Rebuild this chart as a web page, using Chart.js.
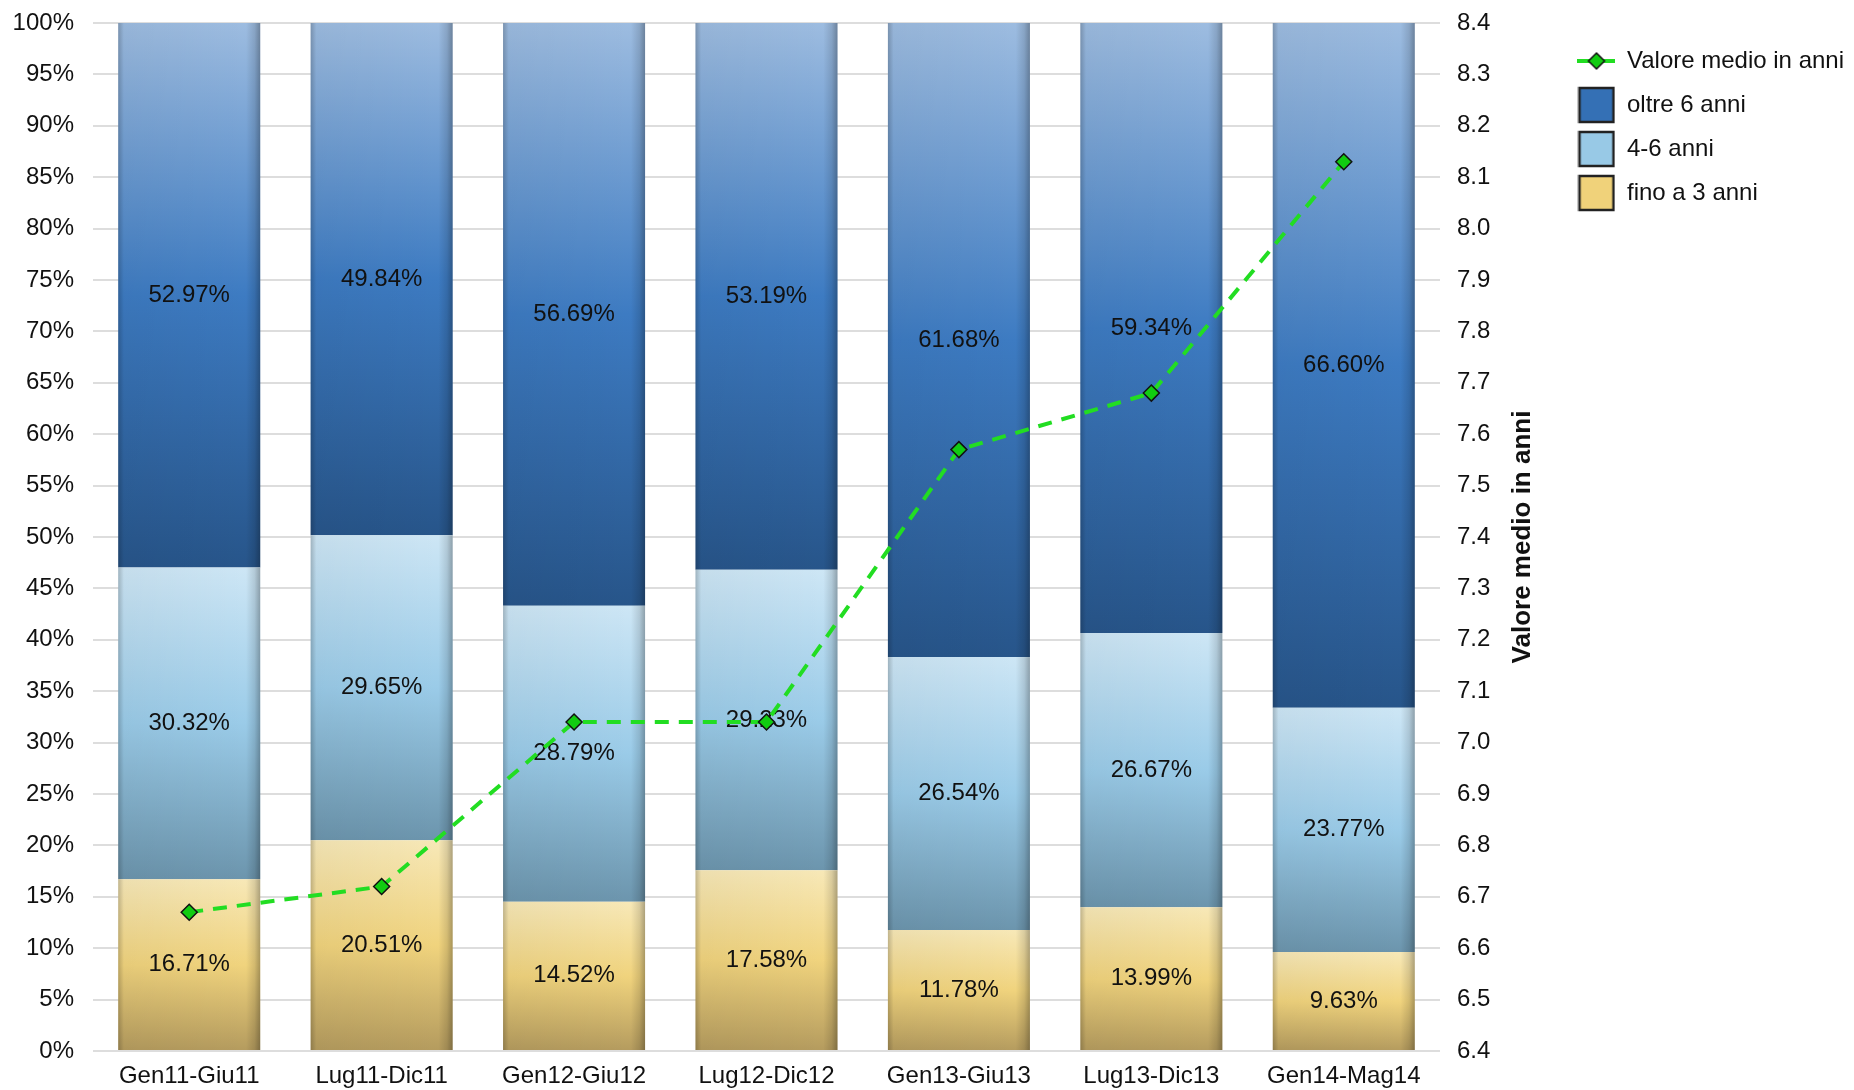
<!DOCTYPE html>
<html>
<head>
<meta charset="utf-8">
<script src="https://cdn.jsdelivr.net/npm/chart.js@4/dist/chart.umd.min.js"></script>
<style>
  html, body { margin: 0; padding: 0; background: #fff; }
  #wrap { width: 1854px; height: 1090px; }
</style>
</head>
<body>
<div id="wrap"><canvas id="chart" width="1854" height="1090"></canvas></div>
<script>
const periods = ['Gen11-Giu11', 'Lug11-Dic11', 'Gen12-Giu12', 'Lug12-Dic12', 'Gen13-Giu13', 'Lug13-Dic13', 'Gen14-Mag14'];
const finoA3 = [16.71, 20.51, 14.52, 17.58, 11.78, 13.99, 9.63];
const da4a6 = [30.32, 29.65, 28.79, 29.23, 26.54, 26.67, 23.77];
const oltre6 = [52.97, 49.84, 56.69, 53.19, 61.68, 59.34, 66.60];
const valoreMedio = [6.67, 6.72, 7.04, 7.04, 7.57, 7.68, 8.13];

const FONT = 'Liberation Sans';

// gradient stops per segment, top -> bottom
const palettes = [
  { flat: '#f0d27a', stops: ['#f7e8b7', '#f0d37d', '#b49b5e'] },
  { flat: '#98c9e6', stops: ['#cde6f5', '#9acbe8', '#6c95ad'] },
  { flat: '#3470b5', stops: ['#9dbce0', '#3d7bc2', '#27558a'] },
];

function segmentFill(ctx, dsIndex) {
  const pal = palettes[dsIndex];
  const chart = ctx.chart;
  const y = chart.scales && chart.scales.y;
  if (ctx.type !== 'data' || !chart.chartArea || !y) return pal.flat;
  let base = 0;
  for (let d = 0; d < dsIndex; d++) base += chart.data.datasets[d].data[ctx.dataIndex];
  const top = y.getPixelForValue(base + ctx.raw);
  const bottom = y.getPixelForValue(base);
  if (!isFinite(top) || !isFinite(bottom) || top === bottom) return pal.flat;
  const g = chart.ctx.createLinearGradient(0, top, 0, bottom);
  g.addColorStop(0, pal.stops[0]);
  g.addColorStop(0.5, pal.stops[1]);
  g.addColorStop(1, pal.stops[2]);
  return g;
}

function boxIcon(color) {
  const c = document.createElement('canvas');
  c.width = 38; c.height = 38;
  const g = c.getContext('2d');
  g.fillStyle = color;
  g.fillRect(2, 2, 34, 34);
  g.strokeStyle = '#222';
  g.lineWidth = 2.5;
  g.strokeRect(2, 2, 34, 34);
  return c;
}

function lineIcon() {
  const c = document.createElement('canvas');
  c.width = 38; c.height = 20;
  const g = c.getContext('2d');
  g.strokeStyle = '#22dd22';
  g.lineWidth = 4;
  g.beginPath(); g.moveTo(0, 10); g.lineTo(38, 10); g.stroke();
  g.fillStyle = '#11cc11';
  g.strokeStyle = '#111';
  g.lineWidth = 1.5;
  g.beginPath();
  g.moveTo(19, 2); g.lineTo(27, 10); g.lineTo(19, 18); g.lineTo(11, 10); g.closePath();
  g.fill(); g.stroke();
  return c;
}

const barLook = {
  id: 'barLook',
  afterDatasetDraw(chart, args) {
    const meta = args.meta;
    if (meta.type !== 'bar') return;
    const ctx = chart.ctx;
    const ds = chart.data.datasets[args.index];
    ctx.save();
    meta.data.forEach((bar, i) => {
      const left = bar.x - bar.width / 2;
      const top = Math.min(bar.y, bar.base);
      const h = Math.abs(bar.base - bar.y);
      const g = ctx.createLinearGradient(left, 0, left + bar.width, 0);
      g.addColorStop(0, 'rgba(0,0,0,0.22)');
      g.addColorStop(0.04, 'rgba(0,0,0,0.04)');
      g.addColorStop(0.9, 'rgba(0,0,0,0.0)');
      g.addColorStop(0.96, 'rgba(0,0,0,0.12)');
      g.addColorStop(1, 'rgba(0,0,0,0.3)');
      ctx.fillStyle = g;
      ctx.fillRect(left, top, bar.width, h);
      ctx.fillStyle = '#111';
      ctx.font = '24px "' + FONT + '"';
      ctx.textAlign = 'center';
      ctx.textBaseline = 'middle';
      ctx.fillText(ds.data[i].toFixed(2) + '%', bar.x, top + h / 2);
    });
    ctx.restore();
  }
};

const rightTitle = {
  id: 'rightTitle',
  afterDraw(chart) {
    const s = chart.scales.y1;
    const area = chart.chartArea;
    const ctx = chart.ctx;
    ctx.save();
    ctx.translate(s.left + 83, (area.top + area.bottom) / 2);
    ctx.rotate(-Math.PI / 2);
    ctx.font = 'bold 26px "' + FONT + '"';
    ctx.fillStyle = '#111';
    ctx.textAlign = 'center';
    ctx.textBaseline = 'middle';
    ctx.fillText('Valore medio in anni', 0, 0);
    ctx.restore();
  }
};

const legendIcons = [lineIcon(), boxIcon('#3470b5'), boxIcon('#98c9e6'), boxIcon('#f0d27a')];

const noEdgePadding = (s) => { s.paddingTop = 0; s.paddingBottom = 0; };

new Chart(document.getElementById('chart'), {
  data: {
    labels: periods,
    datasets: [
      { type: 'bar', label: 'fino a 3 anni', data: finoA3, yAxisID: 'y', order: 1,
        backgroundColor: (c) => segmentFill(c, 0), barPercentage: 0.738, categoryPercentage: 1 },
      { type: 'bar', label: '4-6 anni', data: da4a6, yAxisID: 'y', order: 1,
        backgroundColor: (c) => segmentFill(c, 1), barPercentage: 0.738, categoryPercentage: 1 },
      { type: 'bar', label: 'oltre 6 anni', data: oltre6, yAxisID: 'y', order: 1,
        backgroundColor: (c) => segmentFill(c, 2), barPercentage: 0.738, categoryPercentage: 1 },
      { type: 'line', label: 'Valore medio in anni', data: valoreMedio, yAxisID: 'y1', order: 0,
        borderColor: '#22dd22', borderWidth: 4, borderDash: [14, 10], tension: 0,
        pointStyle: 'rectRot', pointRadius: 8, pointBackgroundColor: '#11cc11',
        pointBorderColor: '#111', pointBorderWidth: 1.5 },
    ],
  },
  options: {
    responsive: false,
    animation: false,
    layout: { padding: { left: 13, top: 23, right: 0, bottom: 2 } },
    plugins: {
      tooltip: { enabled: false },
      legend: {
        position: 'right',
        align: 'start',
        title: { display: true, text: '', font: { size: 5 }, padding: 0 },
        labels: {
          font: { family: FONT, size: 24 },
          color: '#111',
          usePointStyle: true,
          pointStyleWidth: 37,
          padding: 20,
          generateLabels: () => [
            { text: 'Valore medio in anni', pointStyle: legendIcons[0], fontColor: '#111', datasetIndex: 3 },
            { text: 'oltre 6 anni', pointStyle: legendIcons[1], fontColor: '#111', datasetIndex: 2 },
            { text: '4-6 anni', pointStyle: legendIcons[2], fontColor: '#111', datasetIndex: 1 },
            { text: 'fino a 3 anni', pointStyle: legendIcons[3], fontColor: '#111', datasetIndex: 0 },
          ],
        },
      },
    },
    scales: {
      x: {
        stacked: true,
        grid: { display: false },
        border: { display: false },
        ticks: { font: { family: FONT, size: 24 }, color: '#111', padding: 3, maxRotation: 0 },
        afterFit: (s) => { s.height = 37; },
      },
      y: {
        stacked: true,
        min: 0, max: 100,
        grid: { color: '#dddddd', lineWidth: 2, drawTicks: false },
        border: { display: false },
        ticks: { stepSize: 5, padding: 19, font: { family: FONT, size: 24 }, color: '#111',
          callback: (v) => v + '%' },
        afterFit: (s) => { s.width = 80; noEdgePadding(s); },
      },
      y1: {
        position: 'right',
        min: 6.4, max: 8.4,
        grid: { display: false, drawTicks: false },
        border: { display: false },
        ticks: { stepSize: 0.1, padding: 17, font: { family: FONT, size: 24 }, color: '#111',
          callback: (v) => v.toFixed(1) },
        afterFit: (s) => { s.width = 118; noEdgePadding(s); },
      },
    },
  },
  plugins: [barLook, rightTitle],
});
</script>
</body>
</html>
